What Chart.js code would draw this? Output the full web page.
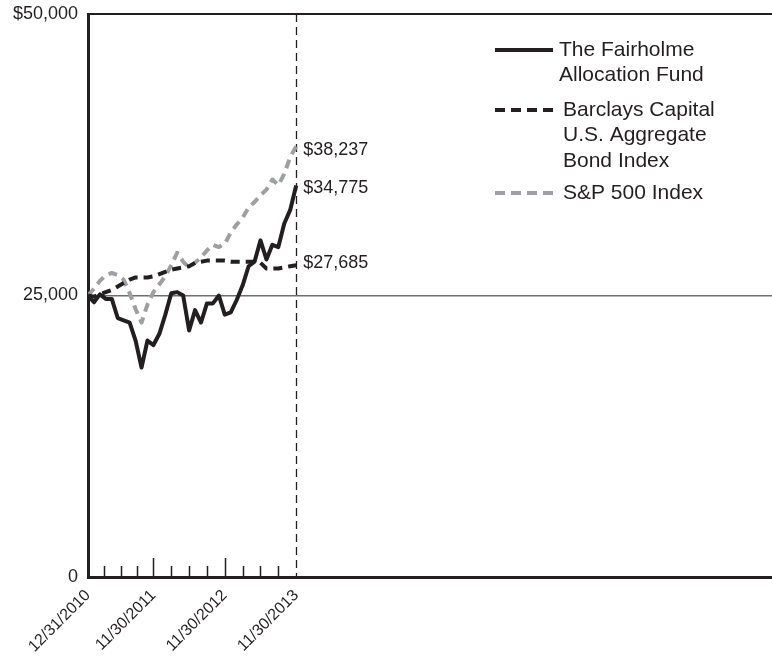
<!DOCTYPE html>
<html>
<head>
<meta charset="utf-8">
<style>
html, body { margin: 0; padding: 0; background: #fff; }
#wrap { width: 772px; height: 658px; }
</style>
<script src="https://cdn.jsdelivr.net/npm/chart.js@4.4.1/dist/chart.umd.min.js"></script>
</head>
<body>
<div id="wrap"><canvas id="growthChart" width="772" height="658"></canvas></div>
<script>
// monthly values of a $25,000 investment, 12/31/2010 .. 11/30/2013
var fundValues = [25000, 24400, 25100, 24700, 24700, 23000, 22800, 22600, 21000, 18600,
                  21000, 20600, 21600, 23300, 25200, 25300, 25000, 21900, 23700, 22600,
                  24300, 24300, 25000, 23300, 23500, 24600, 25900, 27600, 28000, 29900,
                  28200, 29500, 29300, 31400, 32600, 34775];
var bondValues = [25000, 24900, 25100, 25300, 25500, 25800, 26100, 26400, 26600, 26600,
                  26600, 26700, 26900, 27100, 27300, 27400, 27500, 27600, 27900, 28000,
                  28100, 28100, 28100, 28100, 28000, 28000, 28000, 28000, 28000, 27900,
                  27400, 27400, 27400, 27500, 27600, 27685];
var spValues = [25000, 25600, 26300, 26800, 27000, 26800, 26400, 25200, 23800, 22600,
                24200, 25300, 26000, 26700, 27700, 28800, 28000, 27500, 27900, 28400,
                29000, 29500, 29300, 29600, 30600, 31300, 31900, 32800, 33300, 33900,
                34400, 35300, 34800, 35800, 37300, 38237];

var seriesNames = [['The Fairholme', 'Allocation Fund'],
                   ['Barclays Capital', 'U.S. Aggregate', 'Bond Index'],
                   ['S&P 500 Index']];
var dateLabels = ['12/31/2010', '11/30/2011', '11/30/2012', '11/30/2013'];
var dateLabelMonths = [0, 11, 23, 35];
var minorTickMonths = [2.75, 5.5, 8.25, 14, 17, 20, 26, 29, 32];
var majorTickMonths = [11, 23];
var yTicks = [0, 25000, 50000];
var yTickLabels = ['0', '25,000', '$50,000'];
var baseline = 25000;
var endMonth = 35;

var ink = '#231f20';
var grey = '#9d9fa2';
var fontFamily = '"Liberation Sans", Arial, Helvetica, sans-serif';

function toPoints(values) {
    return values.map(function(v, i) { return { x: i, y: v }; });
}

function money(v) {
    return '$' + v.toLocaleString('en-US');
}

var styles = [
    { color: ink, dash: [] },
    { color: ink, dash: [9, 6] },
    { color: grey, dash: [9, 6] }
];

var extras = {
    id: 'extras',
    beforeDatasetsDraw: function(chart) {
        var c = chart.ctx, a = chart.chartArea;
        var x = chart.scales.x;
        c.save();
        // top frame line
        c.strokeStyle = ink;
        c.lineWidth = 2;
        c.beginPath();
        c.moveTo(a.left, a.top);
        c.lineTo(a.right, a.top);
        c.stroke();
        // small tick marks standing on the x axis
        c.lineWidth = 1.5;
        minorTickMonths.forEach(function(m) {
            var px = Math.round(x.getPixelForValue(m)) + 0.5;
            c.beginPath(); c.moveTo(px, a.bottom); c.lineTo(px, a.bottom - 11); c.stroke();
        });
        majorTickMonths.forEach(function(m) {
            var px = Math.round(x.getPixelForValue(m)) + 0.5;
            c.beginPath(); c.moveTo(px, a.bottom); c.lineTo(px, a.bottom - 19); c.stroke();
        });
        // dashed line at the last date
        var ex = Math.round(x.getPixelForValue(endMonth)) + 0.5;
        c.setLineDash([8, 5]);
        c.lineWidth = 1.3;
        c.beginPath(); c.moveTo(ex, a.top); c.lineTo(ex, a.bottom); c.stroke();
        c.restore();
    },
    afterDraw: function(chart) {
        var c = chart.ctx;
        var x = chart.scales.x, y = chart.scales.y;
        c.save();
        // end values
        c.fillStyle = ink;
        c.font = '18px ' + fontFamily;
        c.textBaseline = 'middle';
        c.textAlign = 'left';
        var lx = x.getPixelForValue(endMonth) + 7;
        var ends = [fundValues, bondValues, spValues];
        var nudges = [3, -2, 4];
        ends.forEach(function(vals, i) {
            var v = vals[vals.length - 1];
            c.fillText(money(v), lx, y.getPixelForValue(v) + nudges[i]);
        });
        // legend
        c.font = '21px ' + fontFamily;
        var rowY = [50, 110, 193];
        var textX = [559, 563, 563];
        seriesNames.forEach(function(lines, i) {
            c.strokeStyle = styles[i].color;
            c.lineWidth = 4;
            c.setLineDash(i === 0 ? [] : [10, 6]);
            c.beginPath();
            c.moveTo(495, rowY[i]);
            c.lineTo(553, rowY[i]);
            c.stroke();
            c.fillStyle = ink;
            lines.forEach(function(t, j) {
                c.fillText(t, textX[i], rowY[i] + j * 25.5);
            });
        });
        c.restore();
    }
};

var ctx = document.getElementById('growthChart').getContext('2d');
var growthChart = new Chart(ctx, {
    type: 'line',
    data: {
        datasets: [fundValues, bondValues, spValues].map(function(vals, i) {
            return {
                label: seriesNames[i].join(' '),
                data: toPoints(vals),
                borderColor: styles[i].color,
                borderDash: styles[i].dash,
                borderWidth: 4,
                pointRadius: 0,
                tension: 0,
                fill: false,
                borderJoinStyle: 'round'
            };
        })
    },
    options: {
        responsive: false,
        animation: false,
        layout: { padding: { top: 14, right: 0, bottom: 0, left: 0 } },
        plugins: {
            legend: { display: false },
            tooltip: { enabled: false }
        },
        scales: {
            x: {
                type: 'linear',
                min: 0,
                max: 115,
                afterFit: function(s) { s.height = 81; },
                afterBuildTicks: function(s) {
                    s.ticks = dateLabelMonths.map(function(v) { return { value: v }; });
                },
                grid: { display: false, drawTicks: false },
                border: { display: true, color: ink, width: 3 },
                ticks: {
                    autoSkip: false,
                    minRotation: 45,
                    maxRotation: 45,
                    padding: 9,
                    color: ink,
                    font: { family: fontFamily, size: 16 },
                    callback: function(v) {
                        var k = dateLabelMonths.indexOf(v);
                        return k >= 0 ? dateLabels[k] : '';
                    }
                }
            },
            y: {
                min: 0,
                max: 50000,
                afterFit: function(s) {
                    s.width = 88;
                    s.paddingTop = 0;
                },
                afterBuildTicks: function(s) {
                    s.ticks = yTicks.map(function(v) { return { value: v }; });
                },
                grid: {
                    drawTicks: false,
                    lineWidth: 1.5,
                    color: function(c) {
                        return c.tick && c.tick.value === baseline ? '#6d6e71' : 'rgba(0,0,0,0)';
                    }
                },
                border: { display: true, color: ink, width: 3 },
                ticks: {
                    padding: 10,
                    color: ink,
                    font: { family: fontFamily, size: 18 },
                    callback: function(v) {
                        var k = yTicks.indexOf(v);
                        return k >= 0 ? yTickLabels[k] : '';
                    }
                }
            }
        }
    },
    plugins: [extras]
});
</script>
</body>
</html>
